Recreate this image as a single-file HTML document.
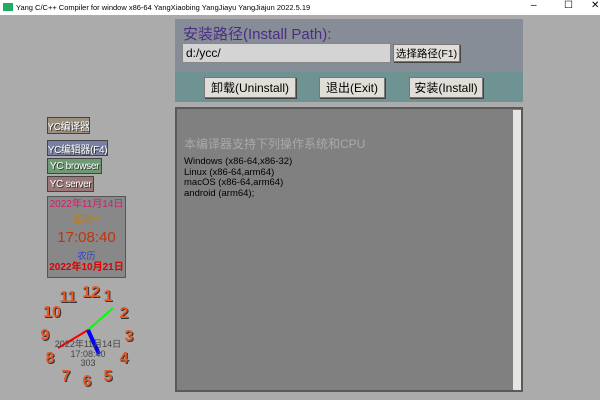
<!DOCTYPE html>
<html><head><meta charset="utf-8"><style>
body{margin:0;width:600px;height:400px;background:#ababab;position:relative;overflow:hidden;font-family:"Liberation Sans","Noto Sans CJK SC",sans-serif}
.a{position:absolute;white-space:nowrap}
.btn{position:absolute;background:#e1ddd7;border:1px solid #777;box-shadow:1px 1px 0 #444;font-size:12px;display:flex;align-items:center;justify-content:center;color:#000;box-sizing:border-box;white-space:nowrap}
.lb{position:absolute;font-size:10px;letter-spacing:-0.3px;color:#fff;border:1px solid #444;display:flex;align-items:center;justify-content:center;text-shadow:1px 1px 0 #333;white-space:nowrap;box-sizing:border-box;overflow:hidden}
.n{position:absolute;font:bold 16px "Liberation Sans",sans-serif;color:#e05a2a;text-shadow:1px 1px 0 #333;transform:translate(-50%,-50%)}
</style></head><body>
<div class="a" style="left:0;top:0;width:600px;height:15px;background:#fff"></div>
<div class="a" style="left:3px;top:3px;width:10px;height:8px;background:#2a6"></div>
<div class="a" style="left:16px;top:3px;font-size:7.5px;color:#000">Yang C/C++ Compiler for window x86-64 YangXiaobing YangJiayu YangJiajun 2022.5.19</div>
<div class="a" style="left:531px;top:0;font-size:10px">–</div>
<div class="a" style="left:564px;top:0;font-size:10px">☐</div>
<div class="a" style="left:591px;top:0;font-size:10px">✕</div>

<div class="a" style="left:175px;top:19px;width:348px;height:53px;background:#878d97"></div>
<div class="a" style="left:183px;top:23px;font-size:15px;color:#4b2d86">安装路径(Install Path):</div>
<div class="a" style="left:182px;top:43px;width:204px;height:18px;background:#d4d4d4;border:1px solid #888;font-size:12px;line-height:18px;padding-left:3px">d:/ycc/</div>
<div class="btn" style="left:393px;top:44px;width:67px;height:18px;font-size:10.5px">选择路径(F1)</div>
<div class="a" style="left:175px;top:72px;width:348px;height:30px;background:#6f9393"></div>
<div class="btn" style="left:204px;top:77px;width:92px;height:21px">卸载(Uninstall)</div>
<div class="btn" style="left:319px;top:77px;width:66px;height:21px">退出(Exit)</div>
<div class="btn" style="left:409px;top:77px;width:74px;height:21px">安装(Install)</div>

<div class="a" style="left:175px;top:107px;width:344px;height:281px;background:#808080;border:2px solid #5a5a5a"></div>
<div class="a" style="left:513px;top:110px;width:8px;height:280px;background:#e8e6e2"></div>
<div class="a" style="left:184px;top:135px;font-size:12px;color:#a9a9a9">本编译器支持下列操作系统和CPU</div>
<div class="a" style="left:184px;top:157px;font-size:9.5px;line-height:10.5px;color:#000">Windows (x86-64,x86-32)<br>Linux (x86-64,arm64)<br>macOS (x86-64,arm64)<br>android (arm64);</div>

<div class="lb" style="left:47px;top:117px;width:43px;height:17px;background:#9b8f80">YC编译器</div>
<div class="lb" style="left:47px;top:140px;width:61px;height:16px;background:#7a80a4">YC编辑器(F4)</div>
<div class="lb" style="left:47px;top:158px;width:55px;height:16px;background:#6d9a72">YC browser</div>
<div class="lb" style="left:47px;top:176px;width:47px;height:16px;background:#9a7677">YC server</div>

<div class="a" style="left:47px;top:196px;width:79px;height:82px;background:#888;border:1px solid #555;text-align:center;box-sizing:border-box">
<div style="font-size:10px;line-height:12px;color:#d21d6e;margin-top:2px">2022年11月14日</div>
<div style="font-size:9px;line-height:11px;color:#c87a00;margin-top:3px">星期一</div>
<div style="font-size:15px;line-height:18px;color:#c0340c;margin-top:4px">17:08:40</div>
<div style="font-size:9px;line-height:11px;color:#2b3bd0;margin-top:4px">农历</div>
<div style="font-size:10px;line-height:12px;color:#e00000;font-weight:bold">2022年10月21日</div>
</div>

<svg class="a" style="left:0;top:0" width="600" height="400">
<line x1="88" y1="330" x2="113" y2="308" stroke="#0f0" stroke-width="2"/>
<line x1="88" y1="330" x2="58" y2="348" stroke="#f00" stroke-width="2"/>
<line x1="88" y1="330" x2="99" y2="354" stroke="#00f" stroke-width="4"/>
</svg>
<div class="a" style="left:48px;top:340px;width:80px;text-align:center;font-size:9px;line-height:9.5px;color:#444">2022年11月14日<br>17:08:40<br>303</div>
<div class="n" style="left:91px;top:293px">12</div>
<div class="n" style="left:108px;top:297px">1</div>
<div class="n" style="left:124px;top:314px">2</div>
<div class="n" style="left:129px;top:337px">3</div>
<div class="n" style="left:124px;top:359px">4</div>
<div class="n" style="left:108px;top:377px">5</div>
<div class="n" style="left:87px;top:382px">6</div>
<div class="n" style="left:66px;top:377px">7</div>
<div class="n" style="left:50px;top:359px">8</div>
<div class="n" style="left:45px;top:336px">9</div>
<div class="n" style="left:52px;top:313px">10</div>
<div class="n" style="left:68px;top:298px">11</div>
</body></html>
